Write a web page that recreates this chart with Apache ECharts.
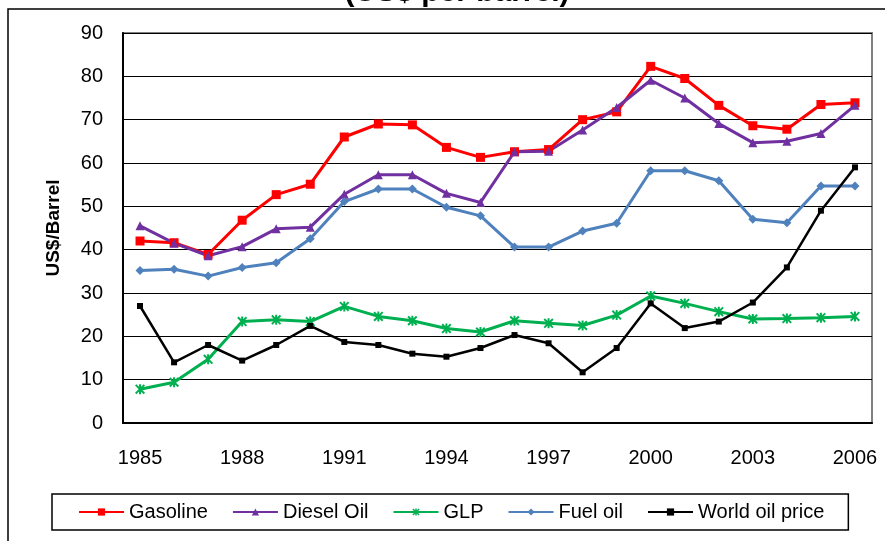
<!DOCTYPE html>
<html>
<head>
<meta charset="utf-8">
<script src="https://cdn.jsdelivr.net/npm/echarts@6/dist/echarts.min.js"></script>
<style>
  html, body { margin: 0; padding: 0; background: #fff; }
  #chart-div { width: 885px; height: 541px; }
</style>
</head>
<body>
<div id="chart-div"></div>
<script>
// years on the x axis
const years = ['1985', '1986', '1987', '1988', '1989', '1990', '1991', '1992', '1993', '1994', '1995',
  '1996', '1997', '1998', '1999', '2000', '2001', '2002', '2003', '2004', '2005', '2006'];

// prices in US$ per barrel
const gasoline = [42.0, 41.6, 38.9, 46.8, 52.7, 55.1, 66.0, 69.0, 68.8, 63.6, 61.3,
  62.6, 63.1, 70.0, 71.8, 82.3, 79.5, 73.3, 68.6, 67.8, 73.5, 73.9];
const dieselOil = [45.5, 41.5, 38.6, 40.7, 44.8, 45.2, 52.8, 57.3, 57.3, 53.0, 50.9,
  62.6, 62.7, 67.6, 72.8, 79.1, 75.0, 69.1, 64.7, 65.0, 66.8, 73.3];
const glp = [7.8, 9.4, 14.7, 23.4, 23.8, 23.4, 26.9, 24.6, 23.6, 21.8, 21.0,
  23.6, 23.0, 22.5, 24.9, 29.3, 27.6, 25.7, 24.0, 24.1, 24.3, 24.6];
const fuelOil = [35.2, 35.5, 33.9, 35.9, 37.0, 42.5, 51.1, 54.0, 54.0, 49.8, 47.8,
  40.6, 40.6, 44.3, 46.1, 58.2, 58.2, 55.9, 47.0, 46.2, 54.7, 54.7];
const worldOil = [27.0, 14.0, 18.0, 14.4, 18.0, 22.4, 18.7, 18.0, 16.0, 15.3, 17.3,
  20.3, 18.4, 11.7, 17.3, 27.6, 21.9, 23.4, 27.8, 35.9, 49.0, 59.0];

// excel-like star marker (asterisk)
const starSymbol = 'path://M4,0 L6,0 L6,10 L4,10 Z M1.4,0 L10,8.6 L8.6,10 L0,1.4 Z M8.6,0 L10,1.4 L1.4,10 L0,8.6 Z';

const font = '"Liberation Sans", Arial, sans-serif';

function lineSeries(name, data, color, symbol, size, width) {
  return {
    name: name,
    type: 'line',
    data: data,
    symbol: symbol,
    symbolSize: size,
    showAllSymbol: true,
    lineStyle: { color: color, width: width },
    itemStyle: { color: color },
    emphasis: { disabled: true },
    z: 3
  };
}

let chart = echarts.init(document.getElementById('chart-div'));

let option = {
  animation: false,
  textStyle: { fontFamily: font },
  title: {
    text: '(US$ per barrel)',
    left: 452,
    textAlign: 'center',
    top: -27,
    textStyle: { fontSize: 30, fontWeight: 'bold', color: '#000', fontFamily: font }
  },
  graphic: [{
    // outer chart border
    type: 'rect',
    shape: { x: 8, y: 9, width: 900, height: 600 },
    style: { fill: 'none', stroke: '#000', lineWidth: 1.5 },
    silent: true
  }],
  grid: {
    left: 123,
    right: 13,
    top: 33,
    bottom: 118,
    show: true,
    borderColor: '#808080',
    borderWidth: 2
  },
  legend: {
    left: 52,
    top: 494,
    padding: [8, 24, 8, 26],
    itemGap: 24,
    itemWidth: 45,
    itemHeight: 9,
    borderColor: '#000',
    borderWidth: 1.5,
    textStyle: { fontSize: 20, color: '#000', fontFamily: font },
    data: ['Gasoline', 'Diesel Oil', 'GLP', 'Fuel oil', 'World oil price']
  },
  xAxis: {
    type: 'category',
    data: years,
    boundaryGap: true,
    axisLine: { lineStyle: { color: '#000', width: 2 } },
    axisTick: { show: false },
    axisLabel: { interval: 2, margin: 25, fontSize: 20, color: '#000', fontFamily: font }
  },
  yAxis: {
    type: 'value',
    min: 0,
    max: 90,
    interval: 10,
    name: 'US$/Barrel',
    nameLocation: 'middle',
    nameRotate: 90,
    nameGap: 60,
    nameTextStyle: { fontSize: 19, fontWeight: 'bold', color: '#000', fontFamily: font },
    axisLine: { show: true, lineStyle: { color: '#000', width: 2 } },
    axisTick: { show: false },
    axisLabel: { margin: 20, fontSize: 20, color: '#000', fontFamily: font },
    splitLine: { lineStyle: { color: '#000', width: 1.2 } }
  },
  series: [
    lineSeries('Gasoline', gasoline, '#ff0000', 'rect', 9, 3),
    lineSeries('Diesel Oil', dieselOil, '#7030a0', 'triangle', 9, 3),
    lineSeries('GLP', glp, '#00b050', starSymbol, 10, 3),
    lineSeries('Fuel oil', fuelOil, '#4f81bd', 'diamond', 9, 3),
    lineSeries('World oil price', worldOil, '#000000', 'rect', 6, 2.5)
  ]
};

chart.setOption(option);
</script>
</body>
</html>
